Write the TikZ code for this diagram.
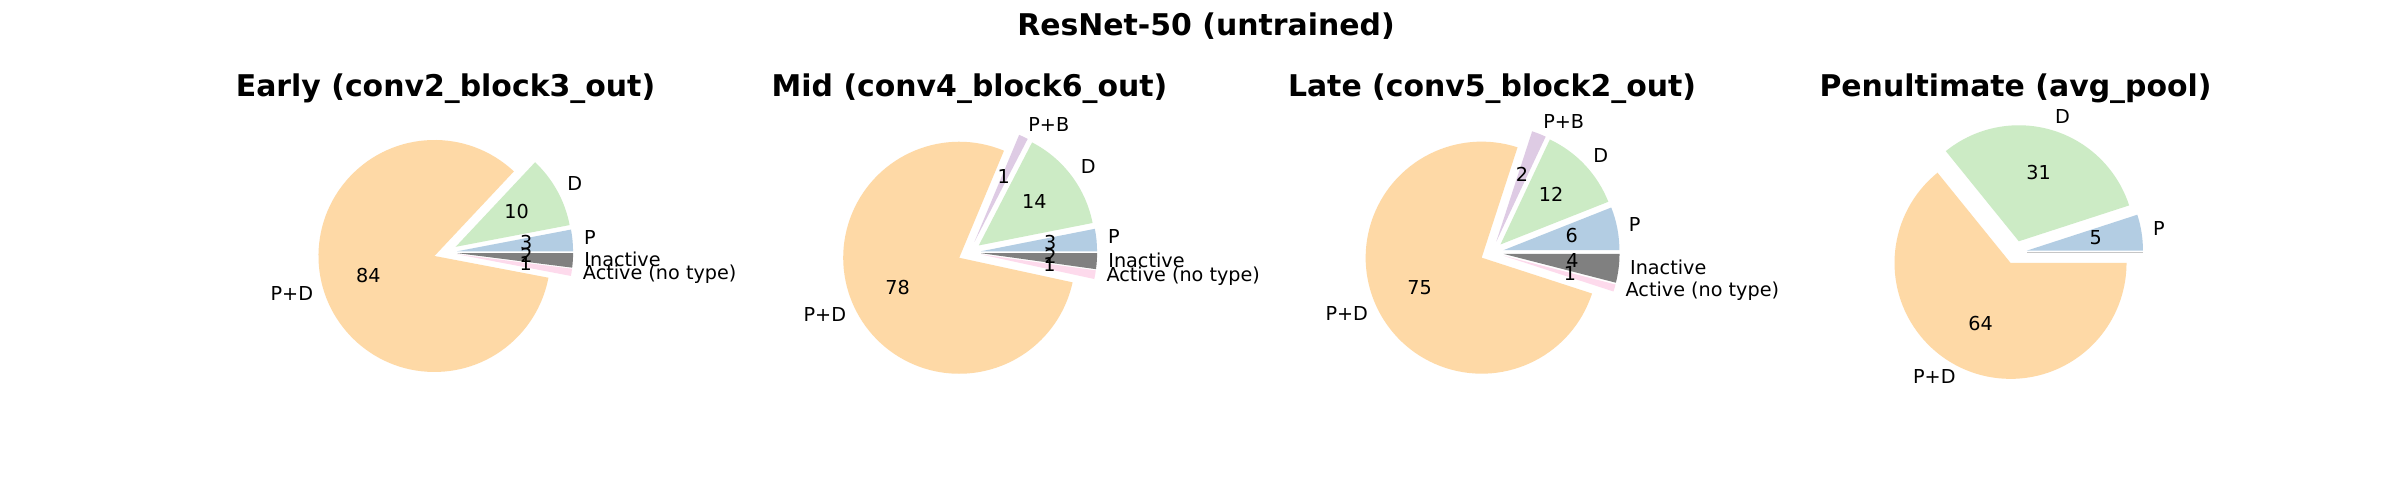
\documentclass[tikz,border=0pt]{standalone}
\usepackage{fontspec}
\setmainfont{DejaVu Sans}
\usetikzlibrary{calc}
\pgfdeclarelayer{fg}
\pgfsetlayers{main,fg}
\definecolor{cPD}{HTML}{FED9A6}
\definecolor{cD}{HTML}{CCEBC5}
\definecolor{cP}{HTML}{B3CDE3}
\definecolor{cPB}{HTML}{DECBE4}
\definecolor{cA}{HTML}{FDDAEC}
\definecolor{cI}{HTML}{808080}
\newcommand\pieR{116}
\newcommand\pieE{11.6}
\tikzset{
  lbl/.style={font=\fontsize{19.2}{23}\selectfont, inner sep=0pt, outer sep=0pt, text=black},
  ttl/.style={font=\fontsize{29.9}{36}\selectfont\bfseries, inner sep=0pt, outer sep=0pt, text=black},
}
% #1 centre, #2 start angle, #3 end angle, #4 colour, #5 label, #6 percentage, #7 name
\newcommand\pieslice[7]{%
  \pgfmathsetmacro\am{(#2+#3)/2}%
  \pgfmathsetmacro\ca{cos(\am)}%
  \coordinate (#7o) at ($(#1)+(\am:\pieE pt)$);%
  \fill[#4] (#7o) -- ($(#7o)+(#2:\pieR pt)$) arc[start angle=#2,end angle=#3,radius=\pieR pt] -- cycle;%
  \ifdim\ca pt>0pt\def\anc{base west}\else\def\anc{base east}\fi
  \begin{pgfonlayer}{fg}%
    \node[lbl,anchor=\anc] (#7l) at ($(#7o)+(\am:127.6pt)+(0,-5.03)$) {#5};%
    \node[lbl,anchor=base] (#7p) at ($(#7o)+(\am:69.6pt)+(0,-5.03)$) {#6};%
  \end{pgfonlayer}}
\begin{document}
\begin{tikzpicture}[x=1pt,y=1pt]
\fill[white] (0,0) rectangle (2400,500);
\useasboundingbox (0,0) rectangle (2400,500);
\node[ttl,anchor=base] (sup) at (1206,464) {ResNet-50 (untrained)};
\coordinate (c1) at (445.5,247.6);
\coordinate (c2) at (969.5,247.6);
\coordinate (c3) at (1492,247.6);
\coordinate (c4) at (2015.5,247.6);
\node[ttl,anchor=base] (t1) at (445.5,403.3) {Early (conv2\_block3\_out)};
\node[ttl,anchor=base] (t2) at (969.5,403.3) {Mid (conv4\_block6\_out)};
\node[ttl,anchor=base] (t3) at (1492,403.3) {Late (conv5\_block2\_out)};
\node[ttl,anchor=base] (t4) at (2015.5,403.3) {Penultimate (avg\_pool)};
% Early
\pieslice{c1}{0}{10.8}{cP}{P}{3}{ea}
\pieslice{c1}{10.8}{46.8}{cD}{D}{10}{eb}
\pieslice{c1}{46.8}{349.2}{cPD}{P+D}{84}{ec}
\pieslice{c1}{349.2}{352.8}{cA}{Active (no type)}{1}{ed}
\pieslice{c1}{352.8}{360}{cI}{Inactive}{2}{ee}
% Mid
\pieslice{c2}{0}{11.16}{cP}{P}{3}{ma}
\pieslice{c2}{11.16}{62.64}{cD}{D}{14}{mb}
\pieslice{c2}{62.64}{67.32}{cPB}{P+B}{1}{mc}
\pieslice{c2}{67.32}{347.76}{cPD}{P+D}{78}{md}
\pieslice{c2}{347.76}{352.08}{cA}{Active (no type)}{1}{me}
\pieslice{c2}{352.08}{360}{cI}{Inactive}{2}{mf}
% Late
\pieslice{c3}{0}{21.6}{cP}{P}{6}{la}
\pieslice{c3}{21.6}{64.8}{cD}{D}{12}{lb}
\pieslice{c3}{64.8}{72}{cPB}{P+B}{2}{lc}
\pieslice{c3}{72}{342}{cPD}{P+D}{75}{ld}
\pieslice{c3}{342}{345.6}{cA}{Active (no type)}{1}{le}
\pieslice{c3}{345.6}{360}{cI}{Inactive}{4}{lf}
% Penultimate
\pieslice{c4}{0}{18}{cP}{P}{5}{pa}
\pieslice{c4}{18}{129}{cD}{D}{31}{pb}
\pieslice{c4}{129}{360}{cPD}{P+D}{64}{pc}
\coordinate (pz) at ($(c4)+(0:\pieE pt)$);
\draw[gray!45, line width=0.8pt] (pz) -- ++(\pieR pt,0);
\end{tikzpicture}
\end{document}
